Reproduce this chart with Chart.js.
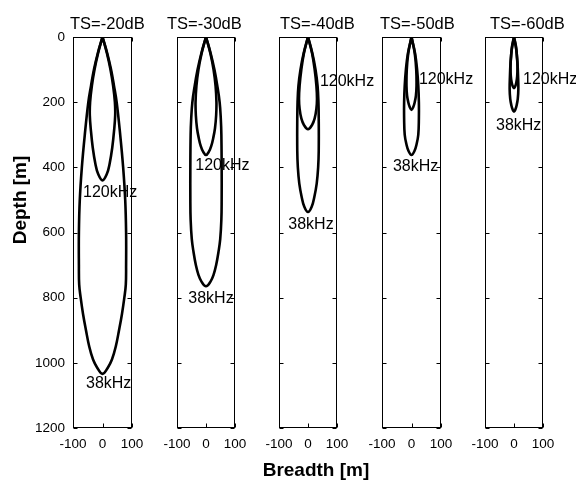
<!DOCTYPE html>
<html><head><meta charset="utf-8">
<script src="https://cdn.jsdelivr.net/npm/chart.js@4.4.1/dist/chart.umd.min.js"></script>
<style>
html,body{margin:0;padding:0;background:#fff;overflow:hidden;width:576px;height:484px;}
#wrap{position:relative;width:576px;height:484px;overflow:hidden;}
canvas{position:absolute;top:0;}
</style></head><body><div id="wrap"></div>
<script>
// ---------------- data ----------------
const titles = ['TS=-20dB', 'TS=-30dB', 'TS=-40dB', 'TS=-50dB', 'TS=-60dB'];
const freqLabels = ['38kHz', '120kHz'];
const xTickValues = [-100, 0, 100];
const yTickValues = [0, 200, 400, 600, 800, 1000, 1200];
// detection contours: [depth (m), half-breadth (m)], curve is symmetric about breadth 0
const c38_20  = [[0,0],[50,16],[100,29],[150,39],[200,48],[300,60],[400,70],[500,77],[600,80],[700,80],[760,79],[800,74],[850,66],[900,56],[950,45],[990,32],[1015,18],[1034,0]];
const c120_20 = [[0,0],[50,15],[100,27],[150,36],[200,42],[240,43],[290,39],[340,33],[390,24],[420,15],[440,0]];
const c38_30  = [[0,0],[50,16],[100,29],[150,39],[200,47],[250,51],[300,53],[400,54],[500,54],[560,53],[620,49],[660,43],[700,35],[730,26],[750,16],[765,0]];
const c120_30 = [[0,0],[50,15],[100,26],[150,33],[200,36],[240,35],[280,31],[310,25],[335,18],[352,10],[362,0]];
const c38_40  = [[0,0],[50,15],[100,26],[150,33],[200,36],[250,37],[350,37],[400,35],[450,30],[490,22],[520,13],[537,0]];
const c120_40 = [[0,0],[50,14],[100,23],[150,29],[190,31],[220,29],[250,23],[270,14],[283,0]];
const c38_50  = [[0,0],[50,12],[100,19],[150,23],[200,25],[250,25],[300,23],[330,17],[350,10],[362,0]];
const c120_50 = [[0,0],[50,11],[100,16],[150,17],[180,15],[200,11],[215,6],[224,0]];
const c38_60  = [[0,0],[40,8],[80,12],[120,14],[160,15],[190,13],[210,9],[222,5],[229,0]];
const c120_60 = [[0,0],[30,7],[60,10],[90,12],[120,11],[140,8],[152,4],[157,0]];
const curves38  = [c38_20, c38_30, c38_40, c38_50, c38_60];
const curves120 = [c120_20, c120_30, c120_40, c120_50, c120_60];

// ---------------- layout / annotation placement ----------------
const panelLeft  = [73, 177, 279, 382, 485];
const panelWidth = [59, 58, 58, 59, 58];
const plotTop = 37, plotBottom = 428, H = 484;
const titleDx = [-3, -10, 1, -2, 5];
// label anchors in data coords [breadth, depth], left aligned, vertically centred
const anchor38  = [[-56,1065],[-61,804],[-68,577],[-63,399],[-62,273]];
const anchor120 = [[-66,476],[-37,396],[41,138],[25,132],[31,132]];

const FONT = '"Liberation Sans", Arial, sans-serif';

function loop(c) {
  const right = c.map(([d, w]) => ({x: w, y: d}));
  const left = c.slice(0, -1).reverse().map(([d, w]) => ({x: -w, y: d}));
  return right.concat(left);
}

const boxPlugin = {
  id: 'matlabBox',
  afterDraw(chart, args, o) {
    const {ctx, chartArea: a, scales: {x, y}} = chart;
    ctx.save();
    ctx.strokeStyle = '#000';
    ctx.lineWidth = 1;
    const L = Math.round(a.left) + 0.5, R = Math.round(a.right) - 0.5;
    const T = Math.round(a.top) + 0.5, B = Math.round(a.bottom) - 0.5;
    ctx.strokeRect(L, T, R - L, B - T);
    const tl = 4;
    ctx.beginPath();
    y.ticks.forEach(t => {
      const py = Math.round(y.getPixelForValue(t.value)) + 0.5;
      ctx.moveTo(L, py); ctx.lineTo(L + tl, py);
      ctx.moveTo(R, py); ctx.lineTo(R - tl, py);
    });
    x.ticks.forEach(t => {
      const px = Math.round(x.getPixelForValue(t.value)) + 0.5;
      ctx.moveTo(px, B); ctx.lineTo(px, B - tl);
      ctx.moveTo(px, T); ctx.lineTo(px, T + tl);
    });
    ctx.stroke();
    ctx.fillStyle = '#000';
    // title
    ctx.font = '16.5px ' + FONT;
    ctx.textAlign = 'left';
    ctx.textBaseline = 'alphabetic';
    ctx.fillText(o.title, a.left + o.titleDx, 29);
    // curve labels
    ctx.font = '16px ' + FONT;
    ctx.textBaseline = 'middle';
    o.labels.forEach(l => {
      ctx.fillText(l.text, x.getPixelForValue(l.x), y.getPixelForValue(l.y));
    });
    // axis titles
    ctx.font = 'bold 19px ' + FONT;
    if (o.xTitle) {
      ctx.textAlign = 'center';
      ctx.textBaseline = 'alphabetic';
      ctx.fillText(o.xTitle, a.left + (a.right - a.left) / 2 + 8, 476);
    }
    if (o.yTitle) {
      ctx.translate(26, 200);
      ctx.rotate(-Math.PI / 2);
      ctx.textAlign = 'center';
      ctx.textBaseline = 'alphabetic';
      ctx.fillText(o.yTitle, 0, 0);
    }
    ctx.restore();
  }
};

const wrap = document.getElementById('wrap');
for (let i = 0; i < 5; i++) {
  const padL = i === 0 ? 73 : 35;
  const padR = 40;
  const cv = document.createElement('canvas');
  const W = padL + panelWidth[i] + padR;
  cv.width = W; cv.height = H;
  cv.style.left = (panelLeft[i] - padL) + 'px';
  cv.style.width = W + 'px'; cv.style.height = H + 'px';
  wrap.appendChild(cv);
  new Chart(cv, {
    type: 'scatter',
    data: {
      datasets: [
        {label: freqLabels[0], data: loop(curves38[i])},
        {label: freqLabels[1], data: loop(curves120[i])}
      ].map(d => Object.assign(d, {
        showLine: true, borderColor: '#000', backgroundColor: '#000',
        borderWidth: 2.6, pointRadius: 0, tension: 0.4, fill: false
      }))
    },
    options: {
      responsive: false, animation: false, devicePixelRatio: 1,
      layout: {padding: {left: 0, right: padR, top: plotTop, bottom: 0}, autoPadding: false},
      plugins: {
        legend: {display: false}, tooltip: {enabled: false}, title: {display: false},
        matlabBox: {
          title: titles[i], titleDx: titleDx[i],
          labels: [
            {text: freqLabels[1], x: anchor120[i][0], y: anchor120[i][1]},
            {text: freqLabels[0], x: anchor38[i][0], y: anchor38[i][1]}
          ],
          xTitle: i === 2 ? 'Breadth [m]' : null,
          yTitle: i === 0 ? 'Depth [m]' : null
        }
      },
      scales: {
        x: {
          type: 'linear', min: -100, max: 100,
          afterBuildTicks: s => { s.ticks = xTickValues.map(v => ({value: v})); },
          afterFit: s => { s.height = H - plotBottom; },
          grid: {display: false, drawTicks: false},
          border: {display: false},
          ticks: {color: '#000', font: {family: FONT, size: 13.5}, padding: 8, maxRotation: 0, autoSkip: false,
                  callback: v => String(v)}
        },
        y: {
          type: 'linear', min: 0, max: 1200, reverse: true,
          afterBuildTicks: s => { s.ticks = yTickValues.map(v => ({value: v})); },
          afterFit: s => { s.width = padL; },
          grid: {display: false, drawTicks: false},
          border: {display: false},
          ticks: {display: i === 0, color: '#000', font: {family: FONT, size: 13.5}, padding: 8, autoSkip: false,
                  callback: v => String(v)}
        }
      }
    },
    plugins: [boxPlugin]
  });
}
</script></body></html>
